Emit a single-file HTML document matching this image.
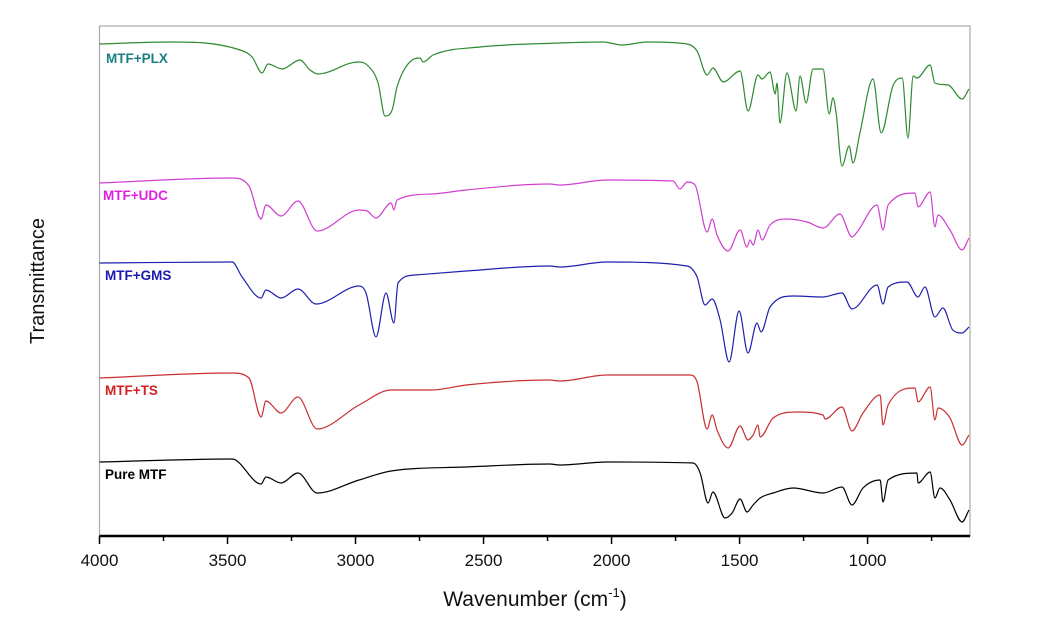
<!DOCTYPE html>
<html><head><meta charset="utf-8"><style>
body{margin:0;background:#fff;}
svg{display:block;font-family:"Liberation Sans",Arial,sans-serif;}
</style></head><body>
<svg id="chart" width="1038" height="643" viewBox="0 0 1038 643">
<rect x="99.5" y="26" width="870.5" height="510" fill="none" stroke="#aaa" stroke-width="1.2"/>
<g id="series"></g>
<line x1="99.5" y1="536" x2="970" y2="536" stroke="#000" stroke-width="2.5"/>
<g id="ticks"></g>
<text x="535" y="606" font-size="21" text-anchor="middle" fill="#111">Wavenumber (cm<tspan font-size="13" dy="-9">-1</tspan><tspan dy="9">)</tspan></text>
<text x="0" y="0" font-size="20" text-anchor="middle" fill="#111" transform="translate(44,281) rotate(-90)">Transmittance</text>
<text x="106" y="63" font-size="13.5" font-weight="bold" fill="#1a8080">MTF+PLX</text>
<text x="103" y="200" font-size="13.5" font-weight="bold" fill="#e020e0">MTF+UDC</text>
<text x="105" y="280" font-size="13.5" font-weight="bold" fill="#1a1ab0">MTF+GMS</text>
<text x="105" y="395" font-size="13.5" font-weight="bold" fill="#d42020">MTF+TS</text>
<text x="105" y="479" font-size="13.5" font-weight="bold" fill="#000">Pure MTF</text>
</svg>
<script>
const tickValues=[4000,3750,3500,3250,3000,2750,2500,2250,2000,1750,1500,1250,1000,750];
const tickLabels=["4000","3500","3000","2500","2000","1500","1000"];
const plxWn=[4000,3725,3451,3404,3365,3342,3287,3217,3178,3146,2990,2955,2912,2885,2857,2838,2779,2748,2736,2697,2514,2201,2033,1959,1861,1705,1666,1627,1604,1564,1498,1467,1428,1412,1381,1361,1354,1342,1315,1279,1264,1240,1213,1174,1150,1135,1123,1100,1072,1057,1030,979,947,901,865,842,822,807,756,737,686,631,604];
const plxT=[492,494,486,479,463,472,467,476,466,462,474,471,453,420,426,449,476,478,474,481,489,493,494,491,494,492,485,461,468,454,465,425,461,457,464,442,453,413,463,425,460,433,467,467,422,438,423,370,390,373,403,457,403,450,458,398,460,458,471,453,451,437,447];
const udcWn=[4000,3482,3416,3369,3350,3291,3225,3150,2986,2955,2920,2861,2850,2838,2701,2568,2244,2201,2018,1760,1733,1705,1674,1627,1607,1588,1545,1498,1471,1459,1447,1428,1412,1381,1315,1236,1174,1108,1061,1041,963,940,920,815,803,756,737,725,678,631,604];
const udcT=[353,358,350,317,331,320,335,305,326,325,318,333,326,336,342,346,352,351,356,355,347,354,351,304,317,301,285,306,289,296,291,306,296,311,317,314,308,322,299,304,331,306,331,343,329,344,309,321,306,286,298];
const gmsWn=[4000,3482,3443,3369,3350,3291,3225,3154,2986,2959,2920,2881,2850,2834,2768,2568,2244,2201,2018,1705,1666,1635,1607,1576,1541,1502,1467,1432,1416,1381,1291,1174,1100,1061,963,940,920,846,803,776,737,706,667,631,604];
const gmsT=[273,274,259,238,246,238,247,232,250,243,199,243,213,253,261,265,270,269,274,270,259,231,237,216,174,225,183,213,204,229,240,239,243,227,251,232,249,254,239,249,219,228,206,203,209];
const tsWn=[4000,3482,3416,3369,3350,3291,3225,3150,2986,2861,2701,2568,2244,2201,2018,1693,1666,1627,1607,1588,1545,1498,1467,1447,1428,1420,1369,1275,1174,1166,1100,1061,1018,951,940,920,815,803,756,737,725,678,631,604];
const tsT=[158,163,158,119,135,123,139,107,131,146,146,151,156,155,161,161,154,107,121,106,88,110,96,101,111,99,118,124,121,117,129,105,123,141,111,131,148,134,149,116,128,118,91,101];
const pureWn=[4000,3482,3369,3350,3291,3225,3150,2986,2861,2568,2244,2201,2018,1682,1654,1623,1604,1557,1529,1498,1471,1447,1420,1369,1291,1174,1100,1061,1018,951,940,920,807,803,756,737,717,678,631,604];
const pureT=[74,77,52,59,53,63,43,56,65,69,72,71,74,73,63,33,44,18,23,37,24,31,38,43,48,43,49,31,48,56,34,56,63,53,64,38,48,36,14,26];

const X0=99.5,X1=970,W0=4000,W1=600,Y0=536,Y1=26,T0=0,T1=510;
function xs(w){return X0+(W0-w)/(W0-W1)*(X1-X0);}
function ys(t){return Y0-(t-T0)/(T1-T0)*(Y0-Y1);}
const NS="http://www.w3.org/2000/svg";
const g=document.getElementById('series');
function monoPath(px,py){
  const n=px.length,dx=[],s=[],m=[];
  for(let i=0;i<n-1;i++){dx[i]=px[i+1]-px[i];s[i]=(py[i+1]-py[i])/(dx[i]||1e-6);}
  m[0]=s[0];m[n-1]=s[n-2];
  for(let i=1;i<n-1;i++){m[i]=(s[i-1]*s[i]<=0)?0:(s[i-1]+s[i])/2;}
  for(let i=0;i<n-1;i++){
    if(s[i]===0){m[i]=0;m[i+1]=0;continue;}
    const a=m[i]/s[i],b=m[i+1]/s[i],h=a*a+b*b;
    if(h>9){const t=3/Math.sqrt(h);m[i]=t*a*s[i];m[i+1]=t*b*s[i];}
  }
  let d='M'+px[0].toFixed(1)+','+py[0].toFixed(1);
  for(let i=0;i<n-1;i++){
    const h=dx[i]/3;
    d+='C'+(px[i]+h).toFixed(1)+','+(py[i]+m[i]*h).toFixed(1)+' '+(px[i+1]-h).toFixed(1)+','+(py[i+1]-m[i+1]*h).toFixed(1)+' '+px[i+1].toFixed(1)+','+py[i+1].toFixed(1);
  }
  return d;
}
function draw(wn,t,color,name){
  const p=document.createElementNS(NS,'path');
  p.setAttribute('d',monoPath(wn.map(xs),t.map(ys)));
  p.setAttribute('fill','none');
  p.setAttribute('stroke',color);
  p.setAttribute('stroke-width','1.2');
  p.setAttribute('stroke-linejoin','round');
  
  
  g.appendChild(p);
}
draw(plxWn,plxT,'#2e8b2e','line-mtf-plx');
draw(udcWn,udcT,'#d040d0','line-mtf-udc');
draw(gmsWn,gmsT,'#2020b0','line-mtf-gms');
draw(tsWn,tsT,'#c83030','line-mtf-ts');
draw(pureWn,pureT,'#000','line-pure-mtf');
const tg=document.getElementById('ticks');
tickValues.forEach(v=>{
  const l=document.createElementNS(NS,'line');
  const x=xs(v);
  l.setAttribute('x1',x);l.setAttribute('x2',x);
  l.setAttribute('y1',536);l.setAttribute('y2',v%500===0?544:541);
  l.setAttribute('stroke','#000');l.setAttribute('stroke-width','1.5');
  
  
  tg.appendChild(l);
});
tickLabels.forEach(s=>{
  const t=document.createElementNS(NS,'text');
  t.setAttribute('x',xs(+s));t.setAttribute('y',566);
  t.setAttribute('font-size','17');t.setAttribute('text-anchor','middle');t.setAttribute('fill','#111');
  t.textContent=s;
  
  
  tg.appendChild(t);
});
</script>
</body></html>
